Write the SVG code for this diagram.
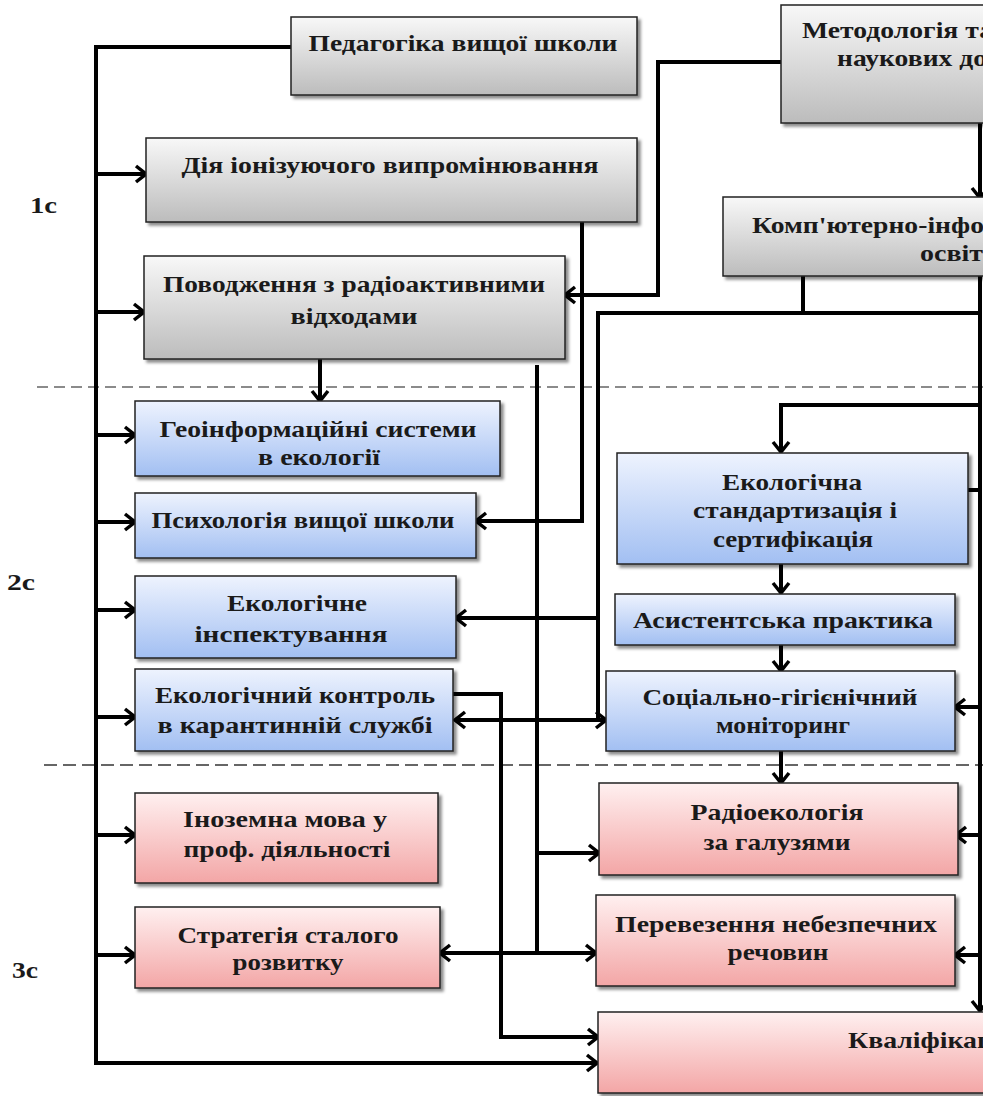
<svg xmlns="http://www.w3.org/2000/svg" width="994" height="1096" viewBox="0 0 994 1096">
<defs>
<linearGradient id="gGray" x1="0" y1="0" x2="0" y2="1"><stop offset="0" stop-color="#f8f8f8"/><stop offset="1" stop-color="#bcbcbc"/></linearGradient>
<linearGradient id="gBlue" x1="0" y1="0" x2="0" y2="1"><stop offset="0" stop-color="#eef3fe"/><stop offset="1" stop-color="#a2bff2"/></linearGradient>
<linearGradient id="gPink" x1="0" y1="0" x2="0" y2="1"><stop offset="0" stop-color="#fff0f0"/><stop offset="1" stop-color="#f3a6a6"/></linearGradient>
<filter id="sh" x="-5%" y="-10%" width="115%" height="130%"><feDropShadow dx="3" dy="3" stdDeviation="1.5" flood-color="#000" flood-opacity="0.45"/></filter>
<clipPath id="clip"><rect x="0" y="0" width="983" height="1096"/></clipPath>
<marker id="ah" viewBox="0 0 14 20" refX="12" refY="10" markerWidth="14" markerHeight="20" markerUnits="userSpaceOnUse" orient="auto"><path d="M2,2 L12,10 L2,18" fill="none" stroke="#000" stroke-width="3.5" stroke-linejoin="miter"/></marker>
</defs>
<style>
.box{stroke:#222;stroke-width:1.5;filter:url(#sh)}
.gray{fill:url(#gGray)}
.blue{fill:url(#gBlue)}
.pink{fill:url(#gPink)}
text{font-family:"Liberation Serif","Times New Roman",serif;font-weight:bold;font-size:23px;fill:#1a1a1a}
.c{text-anchor:middle}
.ln{fill:none;stroke:#000;stroke-width:4}
.arr{marker-end:url(#ah)}
.dash{fill:none;stroke:#666;stroke-width:1.5;stroke-dasharray:11 6}
</style>
<rect width="994" height="1096" fill="#fff"/>
<g clip-path="url(#clip)">
<g id="separators">
<line class="dash" x1="37" y1="387" x2="983" y2="387"/>
<line class="dash" x1="44" y1="765" x2="983" y2="765" style="stroke-width:2;stroke-dasharray:13 6"/>
</g>
<g id="labels">
<text x="30" y="213" textLength="27" lengthAdjust="spacingAndGlyphs">1с</text>
<text x="7" y="590" textLength="28" lengthAdjust="spacingAndGlyphs">2с</text>
<text x="12" y="978" textLength="26" lengthAdjust="spacingAndGlyphs">3с</text>
</g>
<g id="connectors">
<path class="ln arr" d="M291,47 H96 V1063 H597"/>
<path class="ln arr" d="M96,174 H146"/>
<path class="ln arr" d="M96,312 H144"/>
<path class="ln arr" d="M96,435 H135"/>
<path class="ln arr" d="M96,522 H135"/>
<path class="ln arr" d="M96,610 H135"/>
<path class="ln arr" d="M96,717 H135"/>
<path class="ln arr" d="M96,835 H135"/>
<path class="ln arr" d="M96,955 H135"/>
<path class="ln arr" d="M582,222 V521 H476"/>
<path class="ln arr" d="M781,62 H658 V295 H565"/>
<path class="ln arr" d="M320,359 V401"/>
<path class="ln" d="M537,365 V953"/>
<path class="ln arr" d="M537,720 H455"/>
<path class="ln arr" d="M537,720 H606"/>
<path class="ln arr" d="M537,853 H599"/>
<path class="ln arr" d="M537,953 H440"/>
<path class="ln arr" d="M537,953 H596"/>
<path class="ln arr" d="M453,694 H501 V1037 H598"/>
<path class="ln" d="M803,276 V313"/>
<path class="ln" d="M980,313 H598 V722"/>
<path class="ln arr" d="M598,618 H456"/>
<path class="ln arr" d="M980,123 V198"/>
<path class="ln arr" d="M980,276 V1011"/>
<path class="ln arr" d="M980,405 H781 V452"/>
<path class="ln arr" d="M980,490 H954"/>
<path class="ln arr" d="M980,707 H955"/>
<path class="ln arr" d="M980,835 H956"/>
<path class="ln arr" d="M980,955 H955"/>
<path class="ln arr" d="M781,564 V593"/>
<path class="ln arr" d="M781,645 V671"/>
<path class="ln arr" d="M781,751 V783"/>
</g>
<g id="n-pedagogika"><rect class="box gray" x="291" y="17" width="346" height="78"/><text class="c" x="463" y="51" textLength="309" lengthAdjust="spacingAndGlyphs">Педагогіка вищої школи</text></g>
<g id="n-metodologia"><rect class="box gray" x="781" y="5" width="230" height="118"/><text x="802" y="38" textLength="191" lengthAdjust="spacingAndGlyphs">Методологія та</text><text x="837" y="66" textLength="150" lengthAdjust="spacingAndGlyphs">наукових до</text></g>
<g id="n-komp"><rect class="box gray" x="723" y="197" width="290" height="79"/><text x="752" y="233" textLength="232" lengthAdjust="spacingAndGlyphs">Комп'ютерно-інфо</text><text x="920" y="261" textLength="63" lengthAdjust="spacingAndGlyphs">освіт</text></g>
<g id="n-dia"><rect class="box gray" x="146" y="138" width="491" height="84"/><text class="c" x="390" y="173" textLength="417" lengthAdjust="spacingAndGlyphs">Дія іонізуючого випромінювання</text></g>
<g id="n-povodzhennia"><rect class="box gray" x="144" y="256" width="421" height="103"/><text class="c" x="354" y="292" textLength="382" lengthAdjust="spacingAndGlyphs">Поводження з радіоактивними</text><text class="c" x="354" y="324" textLength="127" lengthAdjust="spacingAndGlyphs">відходами</text></g>
<g id="n-geoinform"><rect class="box blue" x="135" y="401" width="365" height="75"/><text class="c" x="318" y="437" textLength="317" lengthAdjust="spacingAndGlyphs">Геоінформаційні системи</text><text class="c" x="319" y="465" textLength="122" lengthAdjust="spacingAndGlyphs">в екології</text></g>
<g id="n-psykholohia"><rect class="box blue" x="135" y="493" width="341" height="65"/><text class="c" x="303" y="528" textLength="303" lengthAdjust="spacingAndGlyphs">Психологія вищої школи</text></g>
<g id="n-inspektuvannia"><rect class="box blue" x="135" y="576" width="321" height="82"/><text class="c" x="297" y="611" textLength="140" lengthAdjust="spacingAndGlyphs">Екологічне</text><text class="c" x="291" y="642" textLength="193" lengthAdjust="spacingAndGlyphs">інспектування</text></g>
<g id="n-kontrol"><rect class="box blue" x="135" y="669" width="318" height="82"/><text class="c" x="295" y="703" textLength="280" lengthAdjust="spacingAndGlyphs">Екологічний контроль</text><text class="c" x="295" y="733" textLength="275" lengthAdjust="spacingAndGlyphs">в карантинній службі</text></g>
<g id="n-standartyzatsia"><rect class="box blue" x="617" y="453" width="351" height="111"/><text class="c" x="792" y="490" textLength="140" lengthAdjust="spacingAndGlyphs">Екологічна</text><text class="c" x="795" y="518" textLength="204" lengthAdjust="spacingAndGlyphs">стандартизація і</text><text class="c" x="793" y="547" textLength="160" lengthAdjust="spacingAndGlyphs">сертифікація</text></g>
<g id="n-asystentska"><rect class="box blue" x="615" y="594" width="340" height="51"/><text class="c" x="783" y="628" textLength="300" lengthAdjust="spacingAndGlyphs">Асистентська практика</text></g>
<g id="n-sotsialno"><rect class="box blue" x="606" y="671" width="349" height="80"/><text class="c" x="780" y="705" textLength="275" lengthAdjust="spacingAndGlyphs">Соціально-гігієнічний</text><text class="c" x="783" y="733" textLength="134" lengthAdjust="spacingAndGlyphs">моніторинг</text></g>
<g id="n-inozemna"><rect class="box pink" x="135" y="793" width="303" height="90"/><text class="c" x="285" y="827" textLength="204" lengthAdjust="spacingAndGlyphs">Іноземна мова у</text><text class="c" x="287" y="857" textLength="207" lengthAdjust="spacingAndGlyphs">проф. діяльності</text></g>
<g id="n-stratehia"><rect class="box pink" x="135" y="907" width="305" height="81"/><text class="c" x="288" y="943" textLength="221" lengthAdjust="spacingAndGlyphs">Стратегія сталого</text><text class="c" x="288" y="970" textLength="111" lengthAdjust="spacingAndGlyphs">розвитку</text></g>
<g id="n-radioekolohia"><rect class="box pink" x="599" y="783" width="359" height="92"/><text class="c" x="777" y="820" textLength="173" lengthAdjust="spacingAndGlyphs">Радіоекологія</text><text class="c" x="777" y="850" textLength="147" lengthAdjust="spacingAndGlyphs">за галузями</text></g>
<g id="n-perevezennia"><rect class="box pink" x="596" y="895" width="359" height="91"/><text class="c" x="776" y="932" textLength="322" lengthAdjust="spacingAndGlyphs">Перевезення небезпечних</text><text class="c" x="778" y="960" textLength="101" lengthAdjust="spacingAndGlyphs">речовин</text></g>
<g id="n-kvalifikatsia"><rect class="box pink" x="598" y="1012" width="420" height="81"/><text x="848" y="1048" textLength="145" lengthAdjust="spacingAndGlyphs">Кваліфікац</text></g>
</g>
</svg>
